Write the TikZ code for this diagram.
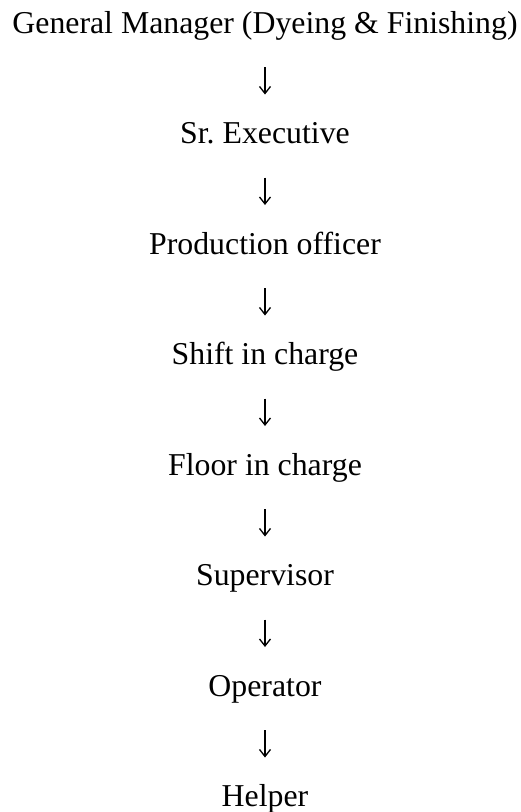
\documentclass[tikz,border=0pt]{standalone}
\usepackage{fontspec}
\setmainfont{Liberation Serif}
\usetikzlibrary{arrows.meta}
\begin{document}
\frenchspacing
\begin{tikzpicture}[x=1pt,y=-1pt,
  rank/.style={anchor=base,inner sep=0pt,outer sep=0pt,
    text height=22pt,text depth=7pt,
    font=\fontsize{31.8}{38}\selectfont},
  down/.style={line width=1.3pt,
    -{Straight Barb[length=7pt,width=11pt,line width=1.3pt]},
    shorten <=27pt,shorten >=27pt}]
\useasboundingbox (0,0) rectangle (521,812);
\node[rank] (gm)  at (265,33)    {General Manager (Dyeing \& Finishing)};
\node[rank] (se)  at (265,143.5) {Sr. Executive};
\node[rank] (po)  at (265,254)   {Production officer};
\node[rank] (sc)  at (265,364.5) {Shift in charge};
\node[rank] (fc)  at (265,475)   {Floor in charge};
\node[rank] (sv)  at (265,585.5) {Supervisor};
\node[rank] (op)  at (265,696)   {Operator};
\node[rank] (hl)  at (265,806.5) {Helper};
\foreach \a/\b in {gm/se,se/po,po/sc,sc/fc,fc/sv,sv/op,op/hl}
  \draw[down] (\a.south) -- (\b.north);
\end{tikzpicture}
\end{document}
